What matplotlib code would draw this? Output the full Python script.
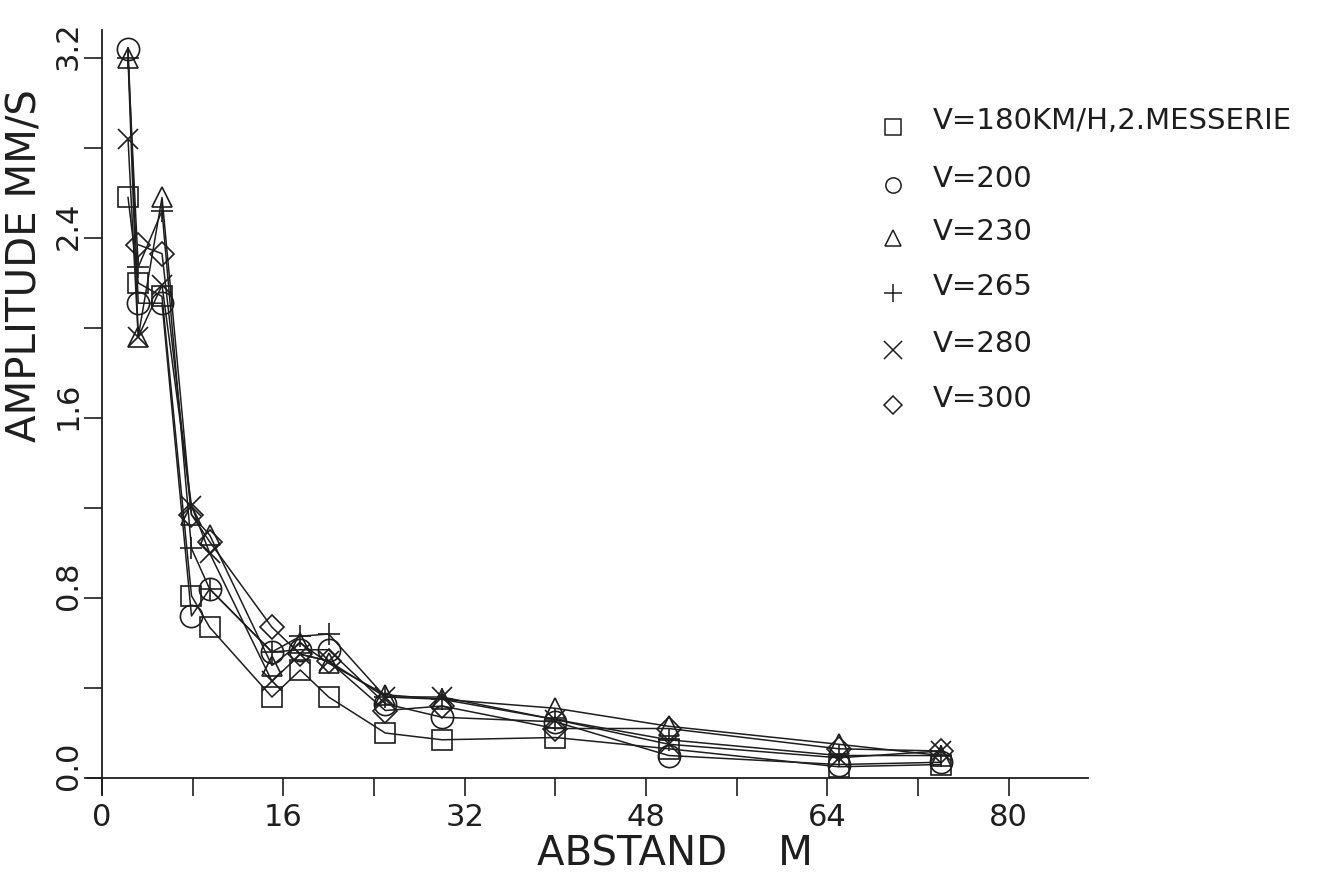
import matplotlib
matplotlib.use("Agg")
import matplotlib.pyplot as plt
import matplotlib.transforms as mtransforms
import numpy as np

# distance (m) and amplitude (mm/s)
abstand = [2.3, 3.2, 5.3, 7.9, 9.5, 15, 17.5, 20, 25, 30, 40, 50, 65, 74]

v180 = [2.58, 2.20, 2.14, 0.81, 0.67, 0.36, 0.48, 0.36, 0.20, 0.17, 0.18, 0.13, 0.05, 0.06]
v200 = [3.24, 2.11, 2.11, 0.72, 0.84, 0.56, 0.57, 0.57, 0.33, 0.27, 0.25, 0.10, 0.06, 0.07]
v230 = [3.20, 1.96, 2.58, 1.17, 1.08, 0.50, 0.60, 0.51, 0.37, 0.35, 0.31, 0.23, 0.15, 0.10]
v265 = [3.20, 2.27, 2.52, 1.02, 0.84, 0.56, 0.63, 0.64, 0.36, 0.35, 0.26, 0.17, 0.10, 0.10]
v280 = [2.84, 1.96, 2.19, 1.21, 1.00, 0.43, 0.55, 0.52, 0.36, 0.36, 0.26, 0.15, 0.09, 0.12]
v300 = [np.nan, 2.37, 2.33, 1.17, 1.05, 0.67, 0.55, 0.52, 0.30, 0.32, 0.22, 0.22, 0.13, 0.12]

labels = ["V=180KM/H,2.MESSERIE", "V=200", "V=230", "V=265", "V=280", "V=300"]
markers = ["s", "o", "^", "+", "x", "D"]
sizes = [14, 16, 14, 16, 15, 12]
legend_sizes = [12, 11, 11, 13, 13, 9]

xticks = [0, 16, 32, 48, 64, 80]
xticks_minor = [8, 24, 40, 56, 72]
yticks = [0.0, 0.8, 1.6, 2.4, 3.2]
yticks_minor = [0.4, 1.2, 2.0, 2.8]
ytick_labels = ["0.0", "0.8", "1.6", "2.4", "3.2"]

W, H = 1317, 876
ink = "#1e1e1e"
plt.rcParams['font.family'] = ['DejaVu Sans']

fig = plt.figure(figsize=(W / 100, H / 100), dpi=100)
ax = fig.add_axes([87 / W, 82 / H, 1001 / W, 764 / H])

series = [v180, v200, v230, v265, v280, v300]
for vals, m, s in zip(series, markers, sizes):
    x = np.array(abstand, dtype=float)
    y = np.array(vals, dtype=float)
    ok = ~np.isnan(y)
    ax.plot(x[ok], y[ok], color=ink, linewidth=1.1, marker=m, markersize=s,
            markerfacecolor="none", markeredgecolor=ink, markeredgewidth=1.2)

ax.set_xlim(-1.32, 87.0)
ax.set_ylim(-0.071, 3.324)

for side in ["top", "right"]:
    ax.spines[side].set_visible(False)
ax.spines["left"].set_position(("data", 0))
ax.spines["bottom"].set_position(("data", 0))
for side in ["left", "bottom"]:
    ax.spines[side].set_linewidth(1.3)
    ax.spines[side].set_color(ink)

ax.set_xticks(xticks)
ax.set_xticks(xticks_minor, minor=True)
ax.set_xticklabels([str(t) for t in xticks], fontsize=22, color=ink)
ax.set_yticks(yticks)
ax.set_yticks(yticks_minor, minor=True)
ax.set_yticklabels(ytick_labels, fontsize=22, color=ink, rotation=90, va="center")
ax.tick_params(which="both", direction="out", length=13, width=1.2, color=ink)
ax.tick_params(axis="x", pad=5)
ax.tick_params(axis="y", pad=1)

shift = mtransforms.ScaledTranslation(0, 12 / 100, fig.dpi_scale_trans)
for lab in ax.get_yticklabels():
    lab.set_transform(lab.get_transform() + shift)

# axis titles
fig.text(675 / W, 1 - 854 / H, "ABSTAND    M", fontsize=29, color=ink,
         ha="center", va="center")
fig.text(26 / W, 1 - 266 / H, "AMPLITUDE MM/S", fontsize=29, color=ink,
         rotation=90, ha="center", va="center")

# legend
mark_y = [127, 185, 238, 293, 350, 405]
for i, (lab, m, s) in enumerate(zip(labels, markers, legend_sizes)):
    ax.plot([893 / W], [1 - mark_y[i] / H], transform=fig.transFigure, clip_on=False,
            marker=m, markersize=s, markerfacecolor="none", markeredgecolor=ink,
            markeredgewidth=1.1, linestyle="none")
    fig.text(933 / W, 1 - (mark_y[i] - 6) / H, lab, fontsize=21, color=ink,
             ha="left", va="center")

fig.savefig("out.png", dpi=100)
